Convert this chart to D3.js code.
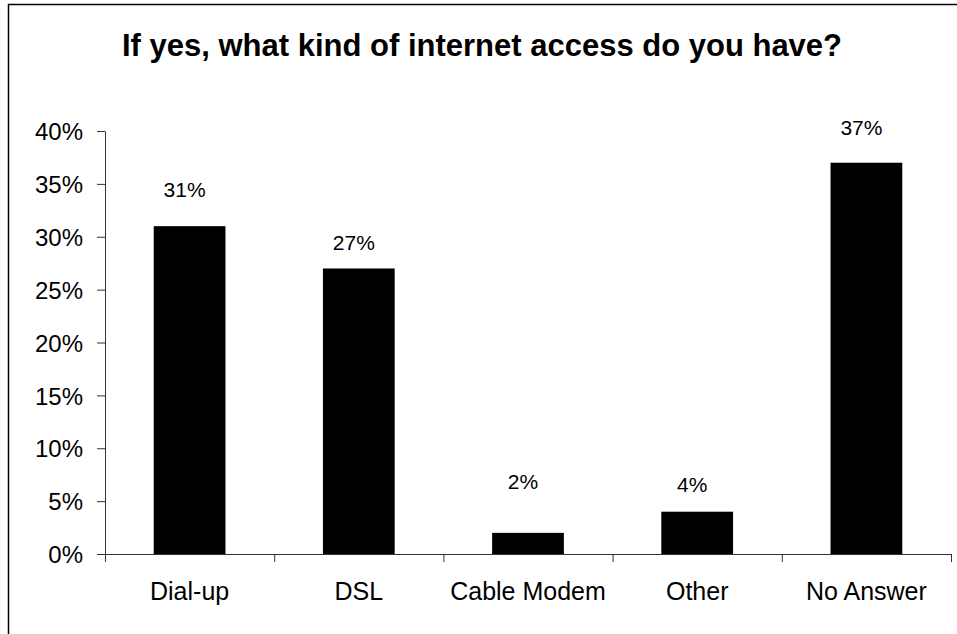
<!DOCTYPE html>
<html>
<head>
<meta charset="utf-8">
<script src="https://cdn.jsdelivr.net/npm/d3@7"></script>
<style>
  html, body { margin: 0; padding: 0; background: #fff; }
  svg { display: block; font-family: Arial, "Liberation Sans", sans-serif; }
</style>
</head>
<body>
<svg id="chart" width="957" height="634"></svg>
<script>
const title = "If yes, what kind of internet access do you have?";
const categories = ["Dial-up", "DSL", "Cable Modem", "Other", "No Answer"];
const values = [31, 27, 2, 4, 37];
const valueLabels = ["31%", "27%", "2%", "4%", "37%"];
const yTicks = [0, 5, 10, 15, 20, 25, 30, 35, 40];
const yTickLabels = ["0%", "5%", "10%", "15%", "20%", "25%", "30%", "35%", "40%"];

// label lift above bar top (px) — layout only
const labelLift = [29, 18, 44, 20, 28];

const svg = d3.select("#chart");
const W = 957, H = 634;
const plot = { left: 105, right: 951, top: 131, bottom: 554 };

svg.append("rect").attr("width", W).attr("height", H).attr("fill", "#fff");
svg.append("rect")
  .attr("x", 8.5).attr("y", 4.5).attr("width", 980).attr("height", 660)
  .attr("fill", "none").attr("stroke", "#000").attr("stroke-width", 1.5);

svg.append("text")
  .attr("x", 482).attr("y", 56)
  .attr("text-anchor", "middle")
  .attr("font-size", 31).attr("font-weight", "bold")
  .attr("fill", "#000")
  .text(title);

const x = d3.scaleBand().domain(categories).range([plot.left, plot.right]).paddingInner(0).paddingOuter(0);
const y = d3.scaleLinear().domain([0, 40]).range([plot.bottom, plot.top]);
const barW = x.bandwidth() * 0.424;

// bars
svg.append("g").selectAll("rect").data(categories).join("rect")
  .attr("x", (d) => x(d) + x.bandwidth() / 2 - barW / 2)
  .attr("y", (d, i) => y(values[i]))
  .attr("width", barW)
  .attr("height", (d, i) => y(0) - y(values[i]))
  .attr("fill", "#000");

// y axis
const yAxis = d3.axisLeft(y).tickValues(yTicks)
  .tickFormat((d, i) => yTickLabels[i]).tickSize(8).tickSizeOuter(0);
const gy = svg.append("g").attr("transform", `translate(${plot.left},0)`).call(yAxis);
gy.select(".domain").attr("stroke", "#333");
gy.selectAll(".tick line").attr("stroke", "#333");
gy.selectAll(".tick text")
  .attr("font-size", 24).attr("fill", "#000")
  .attr("font-family", "Arial, 'Liberation Sans', sans-serif")
  .attr("x", -22).attr("dy", "0.36em");

// x axis line with boundary ticks
const xi = d3.scaleLinear().domain([0, categories.length]).range([plot.left, plot.right]);
const xAxis = d3.axisBottom(xi).tickValues(d3.range(categories.length + 1))
  .tickFormat("").tickSize(8).tickSizeOuter(0);
const gx = svg.append("g").attr("transform", `translate(0,${plot.bottom})`).call(xAxis);
gx.select(".domain").attr("stroke", "#333");
gx.selectAll(".tick line").attr("stroke", "#333");

// category labels
const xLab = d3.axisBottom(x).tickSize(0).tickPadding(0);
const gl = svg.append("g").attr("transform", `translate(0,${plot.bottom})`).call(xLab);
gl.select(".domain").remove();
gl.selectAll(".tick text")
  .attr("font-size", 25).attr("fill", "#000")
  .attr("font-family", "Arial, 'Liberation Sans', sans-serif")
  .attr("y", 46).attr("dy", 0);

// value labels
svg.append("g").selectAll("text").data(categories).join("text")
  .attr("x", (d) => x(d) + x.bandwidth() / 2 - 5)
  .attr("y", (d, i) => y(values[i]) - labelLift[i])
  .attr("text-anchor", "middle")
  .attr("font-size", 21).attr("fill", "#000")
  .text((d, i) => valueLabels[i]);
</script>
</body>
</html>
